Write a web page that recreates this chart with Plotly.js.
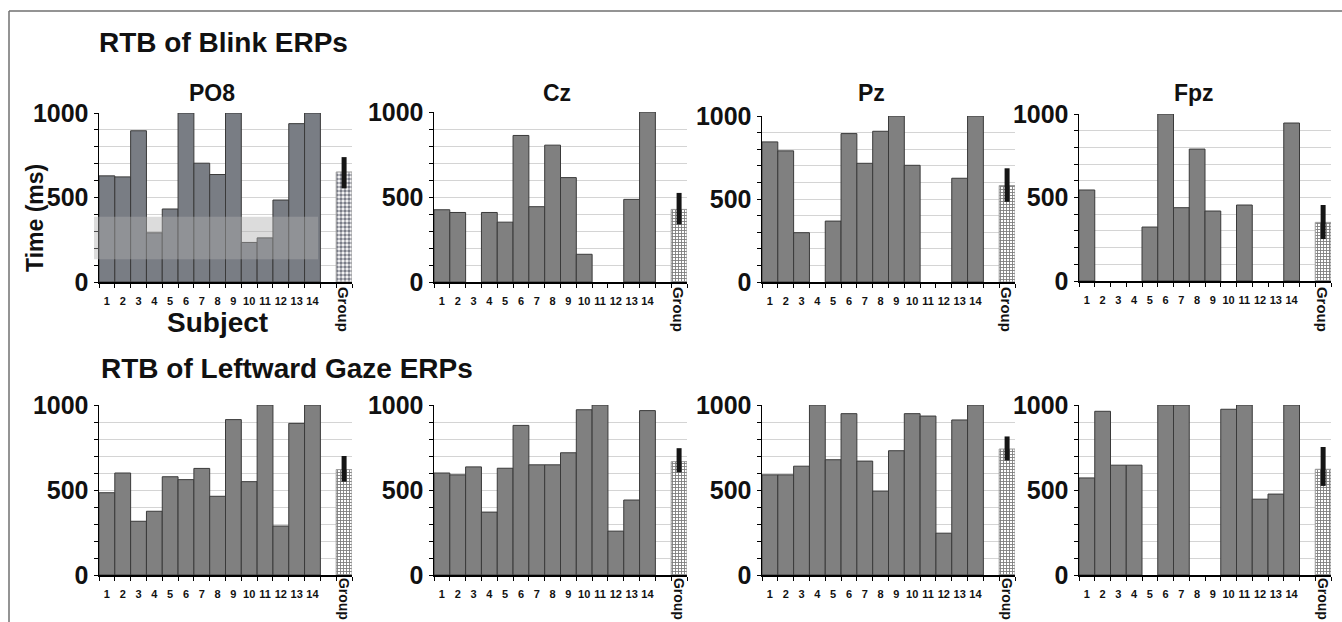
<!DOCTYPE html>
<html>
<head>
<meta charset="utf-8">
<script src="https://cdn.plot.ly/plotly-3.0.1.min.js"></script>
<style>html,body{margin:0;padding:0;background:#fff;}#chart{width:1342px;height:622px;}</style>
</head>
<body>
<div id="chart"></div>
<script>
// ---- data ----
const subjects = ['1','2','3','4','5','6','7','8','9','10','11','12','13','14'];
const subjectPos = [1,2,3,4,5,6,7,8,9,10,11,12,13,14];
const groupLabel = 'Group';
const electrodes = ['PO8','Cz','Pz','Fpz'];

const blinkPO8 = [628, 622, 895, 291, 432, 1000, 703, 636, 1000, 234, 261, 485, 937, 1000];
const blinkCz  = [425, 409, 0, 409, 352, 862, 443, 805, 614, 163, 0, 0, 486, 1000];
const blinkPz  = [844, 790, 297, 0, 367, 894, 715, 908, 1000, 703, 0, 0, 625, 1000];
const blinkFpz = [545, 0, 0, 0, 323, 1000, 439, 790, 419, 0, 455, 0, 0, 946];

const gazePO8 = [484, 600, 316, 375, 578, 561, 627, 463, 914, 549, 1000, 288, 892, 1000];
const gazeCz  = [600, 589, 636, 370, 628, 880, 648, 648, 719, 972, 1000, 258, 441, 967];
const gazePz  = [589, 589, 640, 1000, 678, 949, 670, 493, 731, 949, 935, 246, 912, 1000];
const gazeFpz = [571, 963, 646, 646, 0, 1000, 1000, 0, 0, 975, 1000, 446, 476, 1000];

const blinkGroupMean  = [651, 427, 581, 351];
const blinkGroupPlus  = [88, 97, 104, 104];
const blinkGroupMinus = [97, 88, 98, 100];
const gazeGroupMean   = [620, 667, 741, 622];
const gazeGroupPlus   = [80, 79, 74, 131];
const gazeGroupMinus  = [71, 63, 67, 98];

const yTickVals = [0,100,200,300,400,500,600,700,800,900,1000];
const yTickText = ['0','','','','','500','','','','','1000'];

// ---- layout geometry (pixels) ----
const W = 1342, H = 622;
const colPx = [[99,352],[434,687],[762,1015],[1079,1331]];
const topRowPx = [[282,113],[282,112],[282,116],[281,114]];
const botRowPx = [[575,405],[575,405],[575,405],[575,405]];
const FONT = '"Liberation Sans", Arial, Helvetica, sans-serif';

const panels = [
  {vals: blinkPO8, mean: blinkGroupMean[0], plus: blinkGroupPlus[0], minus: blinkGroupMinus[0], row: 0, col: 0},
  {vals: blinkCz,  mean: blinkGroupMean[1], plus: blinkGroupPlus[1], minus: blinkGroupMinus[1], row: 0, col: 1},
  {vals: blinkPz,  mean: blinkGroupMean[2], plus: blinkGroupPlus[2], minus: blinkGroupMinus[2], row: 0, col: 2},
  {vals: blinkFpz, mean: blinkGroupMean[3], plus: blinkGroupPlus[3], minus: blinkGroupMinus[3], row: 0, col: 3},
  {vals: gazePO8,  mean: gazeGroupMean[0],  plus: gazeGroupPlus[0],  minus: gazeGroupMinus[0],  row: 1, col: 0},
  {vals: gazeCz,   mean: gazeGroupMean[1],  plus: gazeGroupPlus[1],  minus: gazeGroupMinus[1],  row: 1, col: 1},
  {vals: gazePz,   mean: gazeGroupMean[2],  plus: gazeGroupPlus[2],  minus: gazeGroupMinus[2],  row: 1, col: 2},
  {vals: gazeFpz,  mean: gazeGroupMean[3],  plus: gazeGroupPlus[3],  minus: gazeGroupMinus[3],  row: 1, col: 3}
];

const px2x = p => p / W;
const px2y = p => 1 - p / H;

const traces = [];
const layout = {
  width: W, height: H,
  margin: {l: 0, r: 0, t: 0, b: 0},
  paper_bgcolor: '#ffffff', plot_bgcolor: '#ffffff',
  showlegend: false, bargap: 0,
  font: {family: FONT, color: '#111'},
  annotations: [], shapes: []
};

const minorVals = [];
for (let i = 0; i <= 16; i++) minorVals.push(i + 0.5);

panels.forEach((p, i) => {
  const k = i + 1;
  const xa = 'x' + (k === 1 ? '' : k), ya = 'y' + (k === 1 ? '' : k);
  const xkey = 'xaxis' + (k === 1 ? '' : k), ykey = 'yaxis' + (k === 1 ? '' : k);
  const cx = colPx[p.col];
  const ry = p.row === 0 ? topRowPx[p.col] : botRowPx[p.col];
  const isPO8top = (i === 0);

  traces.push({
    type: 'bar', x: subjectPos, y: p.vals, xaxis: xa, yaxis: ya,
    width: 1,
    marker: {color: isPO8top ? '#797d84' : '#808080',
             line: {color: '#3a3a3a', width: p.vals.map(v => v > 0 ? 1 : 0)}},
    hoverinfo: 'x+y'
  });
  traces.push({
    type: 'bar', x: [16], y: [p.mean], xaxis: xa, yaxis: ya,
    width: 1,
    marker: {
      color: '#ffffff',
      line: {color: '#9a9a9a', width: 1},
      pattern: isPO8top
        ? {shape: '.', fgcolor: '#7a7d88', bgcolor: '#ffffff', size: 4, solidity: 0.6}
        : {shape: '+', fgcolor: '#7c7c7c', bgcolor: '#ffffff', size: 3, solidity: 0.5}
    },
    error_y: {type: 'data', symmetric: false, array: [p.plus], arrayminus: [p.minus],
              color: '#151515', thickness: 5, width: 0},
    hoverinfo: 'y'
  });

  layout[xkey] = {
    domain: [px2x(cx[0]), px2x(cx[1])], anchor: ya,
    range: [0.5, 16.5], fixedrange: true,
    tickmode: 'array', tickvals: subjectPos, ticktext: subjects,
    ticks: 'outside', ticklen: 8, tickcolor: 'rgba(0,0,0,0)',
    tickfont: {size: 11, family: FONT, weight: 700, color: '#111'},
    minor: {tickmode: 'array', tickvals: minorVals, ticks: 'outside', ticklen: 4, tickcolor: '#000', tickwidth: 1, showgrid: false},
    showline: true, linecolor: '#000', linewidth: 1.5,
    showgrid: false, zeroline: false
  };
  layout[ykey] = {
    domain: [px2y(ry[0]), px2y(ry[1])], anchor: xa,
    range: [0, 1000], fixedrange: true,
    tickmode: 'array', tickvals: yTickVals, ticktext: yTickText,
    ticks: 'outside', ticklen: 4, tickcolor: '#000', tickwidth: 1,
    tickfont: {size: 25, family: FONT, weight: 700, color: '#111'},
    showline: true, linecolor: '#000', linewidth: 1.5,
    showgrid: true, gridcolor: '#d4d4d4', gridwidth: 1, zeroline: false
  };

  const groupCenterY = (p.row === 0 ? 309 : 599);
  layout.annotations.push({
    xref: xa, yref: 'paper', x: 16, y: px2y(groupCenterY),
    text: groupLabel, textangle: 90, showarrow: false,
    xanchor: 'center', yanchor: 'middle',
    font: {size: p.row === 0 ? 15 : 14, family: FONT, weight: 700, color: '#111'}
  });
});

// panel titles (top row)
const titleCentersX = [212, 557, 871, 1194];
electrodes.forEach((e, j) => {
  layout.annotations.push({
    xref: 'paper', yref: 'paper', x: px2x(titleCentersX[j]), y: px2y(93),
    text: e, showarrow: false, xanchor: 'center', yanchor: 'middle',
    font: {size: 23, family: FONT, weight: 700, color: '#111'}
  });
});

// section titles
layout.annotations.push({
  xref: 'paper', yref: 'paper', x: px2x(97), y: px2y(43),
  text: 'RTB of Blink ERPs', showarrow: false, xanchor: 'left', yanchor: 'middle',
  font: {size: 28, family: FONT, weight: 700, color: '#111'}
});
layout.annotations.push({
  xref: 'paper', yref: 'paper', x: px2x(99), y: px2y(368),
  text: 'RTB of Leftward Gaze ERPs', showarrow: false, xanchor: 'left', yanchor: 'middle',
  font: {size: 28, family: FONT, weight: 700, color: '#111'}
});
// axis titles
layout.annotations.push({
  xref: 'paper', yref: 'paper', x: px2x(35), y: px2y(218),
  text: 'Time (ms)', textangle: -90, showarrow: false, xanchor: 'center', yanchor: 'middle',
  font: {size: 23, family: FONT, weight: 700, color: '#111'}
});
layout.annotations.push({
  xref: 'paper', yref: 'paper', x: px2x(217), y: px2y(322),
  text: 'Subject', showarrow: false, xanchor: 'center', yanchor: 'middle',
  font: {size: 28, family: FONT, weight: 700, color: '#111'}
});

// translucent band in the PO8 blink panel
layout.shapes.push({
  type: 'rect', xref: 'paper', yref: 'y', x0: px2x(94), x1: px2x(318), y0: 135, y1: 386,
  fillcolor: 'rgba(174,174,174,0.43)', line: {width: 0}, layer: 'above'
});
// figure frame (top and left)
layout.shapes.push({
  type: 'line', xref: 'paper', yref: 'paper', x0: px2x(9), x1: 1, y0: px2y(11), y1: px2y(11),
  line: {color: '#707070', width: 1.5}
});
layout.shapes.push({
  type: 'line', xref: 'paper', yref: 'paper', x0: px2x(9), x1: px2x(9), y0: px2y(11), y1: 0,
  line: {color: '#707070', width: 1.5}
});

Plotly.newPlot('chart', traces, layout, {displayModeBar: false, staticPlot: true});
</script>
</body>
</html>
